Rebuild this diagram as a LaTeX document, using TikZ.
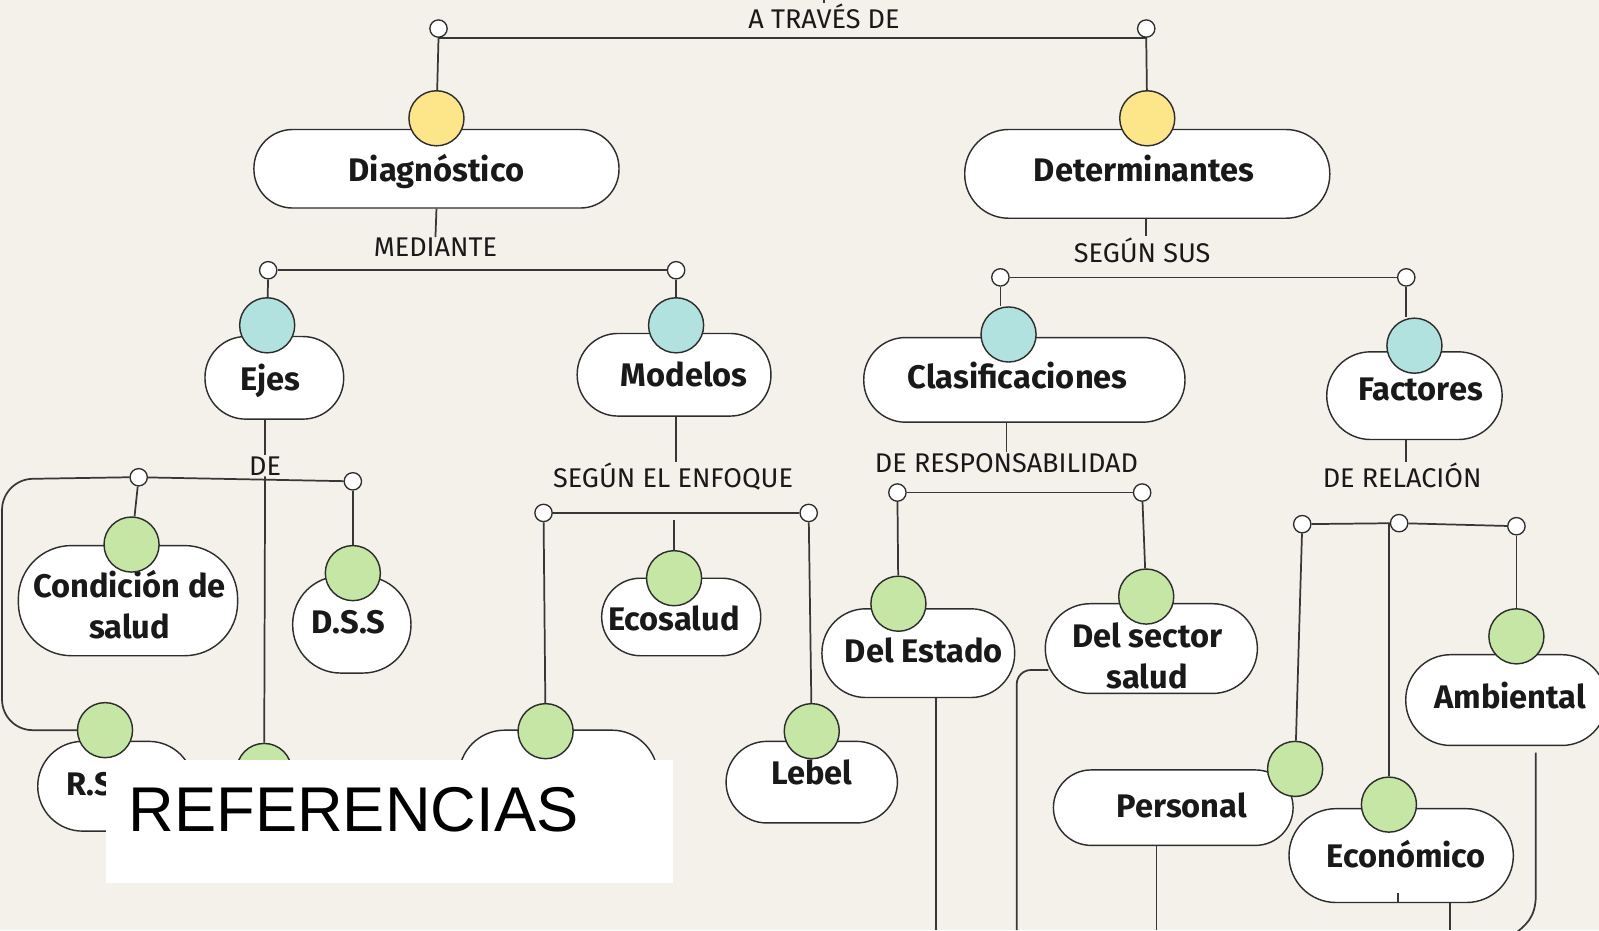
\documentclass[tikz,border=0pt]{standalone}
\usepackage{fontspec}
\setmainfont{Fira Sans}
\newfontfamily\reffont{Liberation Sans}
\usetikzlibrary{calc}
\pgfdeclarelayer{bg}\pgfdeclarelayer{lines}\pgfsetlayers{bg,lines,main}
\definecolor{paper}{RGB}{244,240,234}
\definecolor{ylw}{RGB}{253,230,138}
\definecolor{teal}{RGB}{178,226,224}
\definecolor{grn}{RGB}{197,230,165}
\definecolor{stroke}{RGB}{45,45,45}
\definecolor{linec}{RGB}{55,55,55}
\definecolor{txt}{RGB}{25,25,25}
\newcommand\bxf{\bfseries\fontsize{32}{40}\selectfont}
\newcommand\lbf{\fontsize{26.5}{30}\selectfont}
\begin{document}
\begin{tikzpicture}[x=1pt,y=-1pt,
  box/.style={draw=stroke, line width=1.4pt, fill=white, inner sep=0pt},
  ball/.style={circle, draw=stroke, line width=1.4pt, minimum size=54pt, inner sep=0pt},
  yball/.style={ball, fill=ylw},
  tball/.style={ball, fill=teal},
  gball/.style={ball, fill=grn},
  dot/.style={circle, draw=stroke, fill=white, line width=1.3pt, minimum size=17pt, inner sep=0pt},
  lab/.style={font=\lbf, inner sep=1pt, text=txt, anchor=base},
  btxt/.style={font=\bxf, inner sep=0pt, text=txt, anchor=base},
  btxt2/.style={font=\bxf, inner sep=0pt, text=txt, align=center},
  link/.style={draw=linec, line width=1.7pt}]
\useasboundingbox (0,0) rectangle (1568,912);
\begin{pgfonlayer}{bg}
\fill[paper] (0,0) rectangle (1568,912);
\end{pgfonlayer}

% ---------- boxes ----------
\node[box, minimum width=358, minimum height=77, rounded corners=38] (diag) at (428,165.5) {};
\node[box, minimum width=358, minimum height=87, rounded corners=43] (det) at (1125,170.5) {};
\node[box, minimum width=136, minimum height=81, rounded corners=40] (ejes) at (269,370.5) {};
\node[box, minimum width=190, minimum height=81, rounded corners=40] (mod) at (661,367.5) {};
\node[box, minimum width=315, minimum height=83, rounded corners=41] (clas) at (1004.5,372.5) {};
\node[box, minimum width=172, minimum height=86, rounded corners=43] (fac) at (1387,388) {};
\node[box, minimum width=215, minimum height=108, rounded corners=52] (cond) at (125.5,589) {};
\node[box, minimum width=116, minimum height=95, rounded corners=47] (dss) at (345,612.5) {};
\node[box, minimum width=156, minimum height=76, rounded corners=38] (eco) at (668,605) {};
\node[box, minimum width=189, minimum height=87, rounded corners=43] (est) at (900.5,640.5) {};
\node[box, minimum width=208, minimum height=88, rounded corners=44] (sec) at (1129,636) {};
\node[box, minimum width=197, minimum height=89, rounded corners=44] (amb) at (1477,686.5) {};
\node[box, minimum width=153, minimum height=88, rounded corners=44] (rs) at (113.5,771) {};
\node[box, minimum width=195, minimum height=104, rounded corners=45] (hid) at (547.5,768) {};
\node[box, minimum width=168, minimum height=80, rounded corners=40] (leb) at (796,767) {};
\node[box, minimum width=235, minimum height=74, rounded corners=37] (per) at (1150.5,792) {};
\node[box, minimum width=220, minimum height=92, rounded corners=46] (econ) at (1374,839) {};

% ---------- box texts ----------
\node[btxt] (diagT) at (428,178) {Diagnóstico};
\node[btxt] (detT) at (1122,178) {Determinantes};
\node[btxt] (ejesT) at (265,383) {Ejes};
\node[btxt] (modT) at (671,379) {Modelos};
\node[btxt] (clasT) at (998,381) {Clasificaciones};
\node[btxt] (facT) at (1393,393) {Factores};
\node[btxt2] (condT) at (127,593) {Condición de\\salud};
\node[btxt] (dssT) at (342,621) {D.S.S};
\node[btxt] (ecoT) at (661,618) {Ecosalud};
\node[btxt] (estT) at (906,650) {Del Estado};
\node[btxt2] (secT) at (1125,643) {Del sector\\salud};
\node[btxt] (ambT) at (1481,695) {Ambiental};
\node[btxt, anchor=base west] (rsT) at (65,780) {R.S};
\node[btxt] (lebT) at (796,769) {Lebel};
\node[btxt] (perT) at (1159,802) {Personal};
\node[btxt] (econT) at (1379,851) {Económico};

% ---------- balls ----------
\node[yball] (yDiag) at (428,116) {};
\node[yball] (yDet) at (1125,116) {};
\node[tball] (tEjes) at (262,319) {};
\node[tball] (tMod) at (663,319) {};
\node[tball] (tClas) at (989,328) {};
\node[tball] (tFac) at (1387,339) {};
\node[gball] (gCond) at (129,534) {};
\node[gball] (gDss) at (346,562) {};
\node[gball] (gEco) at (661,567) {};
\node[gball] (gEst) at (881,592) {};
\node[gball] (gSec) at (1124,585) {};
\node[gball] (gAmb) at (1487,624) {};
\node[gball] (gRs) at (103,716) {};
\node[gball] (gHidA) at (259,756) {};
\node[gball] (gHidB) at (535,717) {};
\node[gball] (gLeb) at (796,717) {};
\node[gball] (gPer) at (1270,754) {};
\node[gball] (gEcon) at (1362,789) {};

% ---------- connector labels and dots ----------
\node[lab] (atraves) at (808,28) {A TRAVÉS DE};
\node[lab] (mediante) at (427,252) {MEDIANTE};
\node[lab] (segunsus) at (1120,257) {SEGÚN SUS};
\node[lab] (deA) at (260,466) {DE};
\node[lab] (enf) at (660,478) {SEGÚN EL ENFOQUE};
\node[lab] (resp) at (987,463) {DE RESPONSABILIDAD};
\node[lab] (rel) at (1375,478) {DE RELACIÓN};

\node[dot] (d1L) at (430,28) {};
\node[dot] (d1R) at (1124,28) {};
\node[dot] (d2L) at (263,265) {};
\node[dot] (d2R) at (663,265) {};
\node[dot] (d3L) at (981,272) {};
\node[dot] (d3R) at (1379,272) {};
\node[dot] (d4L) at (136,468) {};
\node[dot] (d4R) at (346,472) {};
\node[dot] (d5L) at (533,503) {};
\node[dot] (d5R) at (793,503) {};
\node[dot] (d6L) at (880,483) {};
\node[dot] (d6R) at (1120,483) {};
\node[dot] (d7L) at (1277,514) {};
\node[dot] (d7M) at (1372,513) {};
\node[dot] (d7R) at (1487,516) {};

% free ends
\coordinate (top) at (808,0);
\coordinate (ecoTop) at (661,510);
\coordinate (econTop) at (1362,514);
\coordinate (estBot) at (918,912);
\coordinate (perBot) at (1134,912);
\coordinate (econBot) at (1422,912);
\coordinate (econTick) at (1371,876);
\coordinate (secOut) at (1028,657);
\coordinate (ambOut) at (1506,738);

% ---------- connectors ----------
\begin{pgfonlayer}{lines}
\draw[link] (top) -- (atraves.north);
\draw[link] (d1L.south) -- (d1R.south);
\draw[link] (d1L.south) -- (yDiag);
\draw[link] (d1R.south) -- (yDet);

\draw[link] (diag.south) -- (mediante.north);
\draw[link] (d2L) -- (d2R);
\draw[link] (d2L) -- (tEjes);
\draw[link] (d2R) -- (tMod);

\draw[link] (det.south -| d1R) -- (d1R |- segunsus.north);
\draw[link] (d3L) -- (d3L |- tClas.north);
\draw[link] (d3L) -- (d3R);
\draw[link] (d3R) -- (d3R |- tFac.north);

\draw[link] (ejes.south -| deA) -- (deA.north);
\draw[link] (deA) -- (gHidA);
\draw[link] (d4L) -- (d4R);
\draw[link] (d4L) -- (gCond);
\draw[link] (d4R) -- (gDss);
\draw[link, rounded corners=30] (d4L.west) -- (2,470) -- (2,716) -- (gRs.west);

\draw[link] (mod.south -| tMod) -- (tMod |- enf.north);
\draw[link] (d5L) -- (d5R);
\draw[link] (d5L) -- (gHidB);
\draw[link] (d5R) -- (gLeb);
\draw[link] (ecoTop) -- (gEco);

\draw[link] (clas.south -| resp) -- (resp.north);
\draw[link] (d6L) -- (d6R);
\draw[link] (d6L) -- (gEst);
\draw[link] (d6R) -- (gSec);

\draw[link] (fac.south -| d3R) -- (d3R |- rel.north);
\draw[link] (d7L) -- (d7M) -- (d7R);
\draw[link] (d7L) -- (gPer);
\draw[link] (econTop) -- (gEcon);
\draw[link] (d7R) -- (gAmb);

\draw[link] (est.south -| estBot) -- (estBot);
\draw[link, rounded corners=14] (secOut) -- (997,657) -- (997,912);
\draw[link] (per.south -| perBot) -- (perBot);
\draw[link] (econ.south -| econBot) -- (econBot);
\draw[link] (ambOut) -- (1506,878) .. controls (1506,900) and (1496,908) .. (1482,918);
\end{pgfonlayer}
\draw[link] (econTick) -- (econTick |- econ.south);

% ---------- overlay ----------
\node[fill=white, minimum width=556, minimum height=121, anchor=north west, inner sep=0pt] (refbox) at (104,745) {};
\node[font=\reffont\fontsize{62}{70}\selectfont, anchor=base west, inner sep=0pt, text=black] (reft) at (126,815) {REFERENCIAS};
\end{tikzpicture}
\end{document}
